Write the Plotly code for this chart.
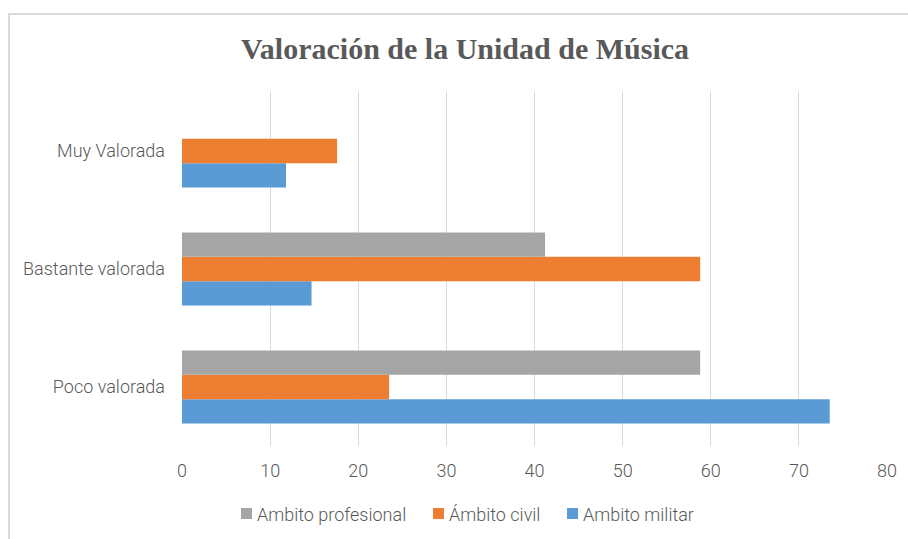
import plotly.graph_objects as go

# Rating categories (bottom to top) and percentage values per survey group
categories = ["Poco valorada", "Bastante valorada", "Muy Valorada"]
militar = [73.5, 14.7, 11.8]
civil = [23.5, 58.8, 17.6]
profesional = [58.8, 41.2, None]

x_ticks = [0, 10, 20, 30, 40, 50, 60, 70, 80]

series = [
    ("Ambito militar", militar, "#5b9bd5"),
    ("Ámbito civil", civil, "#ed7d31"),
    ("Ambito profesional", profesional, "#a5a5a5"),
]

W, H = 908, 539
L, R, T, B = 182, 21, 92, 93
pw, ph = W - L - R, H - T - B
TEXT = "#595959"
FONT = "Roboto, Open Sans, sans-serif"
LABEL_FONT = dict(family=FONT, size=18, color=TEXT, weight=300)


def px_x(v):
    return (v - L) / pw


def px_y(v):
    return (H - B - v) / ph


fig = go.Figure()
for name, vals, color in series:
    fig.add_trace(go.Bar(y=categories, x=vals, orientation="h", name=name,
                         marker=dict(color=color, line=dict(width=0)), showlegend=False))

# Legend drawn as swatch + label pairs, listed left to right
legend_items = [
    ("Ambito profesional", "#a5a5a5", 241),
    ("Ámbito civil", "#ed7d31", 433),
    ("Ambito militar", "#5b9bd5", 567),
]
shapes = [dict(type="rect", xref="paper", yref="paper",
               x0=px_x(9), x1=px_x(930), y0=px_y(560), y1=px_y(14),
               line=dict(color="#d9d9d9", width=2), fillcolor="rgba(0,0,0,0)", layer="below")]
annotations = []
for label, color, sx in legend_items:
    shapes.append(dict(type="rect", xref="paper", yref="paper",
                       x0=px_x(sx), x1=px_x(sx + 11), y0=px_y(519), y1=px_y(508),
                       line=dict(width=0), fillcolor=color))
    annotations.append(dict(text=label, xref="paper", yref="paper", x=px_x(sx + 14),
                            y=px_y(514), xanchor="left", yanchor="middle", showarrow=False,
                            font=LABEL_FONT))

fig.update_layout(
    width=W, height=H,
    margin=dict(l=L, r=R, t=T, b=B),
    paper_bgcolor="white", plot_bgcolor="white",
    barmode="group", bargap=0.38, bargroupgap=0,
    font=dict(family=FONT, size=18, color=TEXT),
    showlegend=False,
    title=dict(text="<b>Valoración de la Unidad de Música</b>",
               font=dict(family="Liberation Serif, Times New Roman, serif", size=30, color=TEXT),
               xref="container", x=465 / W, xanchor="center",
               yref="container", y=1 - 48 / H, yanchor="middle"),
    xaxis=dict(range=[0, 80], tickvals=x_ticks, showgrid=True, gridcolor="#d9d9d9", gridwidth=1,
               zeroline=False, showline=False, ticks="", ticklabelstandoff=12,
               tickfont=LABEL_FONT, fixedrange=True),
    yaxis=dict(categoryorder="array", categoryarray=categories, showgrid=False, zeroline=False,
               showline=False, ticks="", ticklabelstandoff=16, tickfont=LABEL_FONT,
               fixedrange=True),
    shapes=shapes,
    annotations=annotations,
)

fig.write_html("out.html")
